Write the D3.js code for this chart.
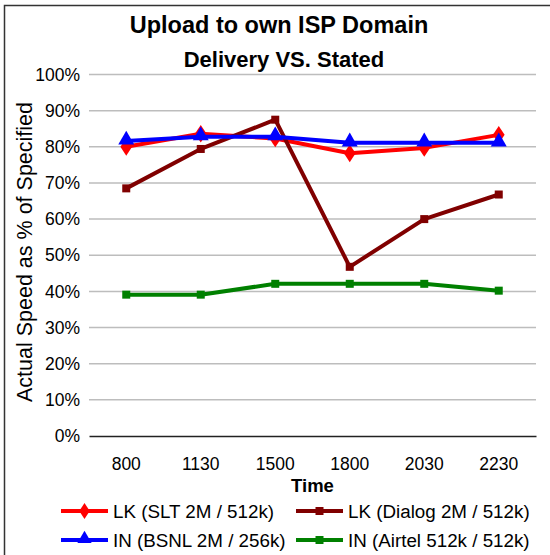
<!DOCTYPE html>
<html>
<head>
<meta charset="utf-8">
<script src="https://cdn.jsdelivr.net/npm/d3@7"></script>
<style>
  html, body { margin: 0; padding: 0; background: #fff; }
  svg { display: block; font-family: Arial, "Liberation Sans", Helvetica, sans-serif; }
</style>
</head>
<body>
<svg id="chart" width="550" height="555"></svg>
<script>
const categories = ["800", "1130", "1500", "1800", "2030", "2230"];
const seriesNames = ["LK (SLT 2M / 512k)", "LK (Dialog 2M / 512k)", "IN (BSNL 2M / 256k)", "IN (Airtel 512k / 512k)"];
const sltValues    = [0.80, 0.836, 0.823, 0.782, 0.797, 0.833];
const dialogValues = [0.685, 0.794, 0.875, 0.468, 0.600, 0.668];
const bsnlValues   = [0.816, 0.828, 0.828, 0.811, 0.811, 0.811];
const airtelValues = [0.391, 0.391, 0.421, 0.421, 0.421, 0.402];
const yTicks = [0, 0.1, 0.2, 0.3, 0.4, 0.5, 0.6, 0.7, 0.8, 0.9, 1.0];
const titleText = "Upload to own ISP Domain";
const subtitleText = "Delivery VS. Stated";
const xTitle = "Time";
const yTitle = "Actual Speed as % of Specified";

const series = [
  { name: seriesNames[0], values: sltValues,    color: "#FF0000", marker: "diamond" },
  { name: seriesNames[1], values: dialogValues, color: "#800000", marker: "square" },
  { name: seriesNames[2], values: bsnlValues,   color: "#0000FF", marker: "triangle" },
  { name: seriesNames[3], values: airtelValues, color: "#008000", marker: "square" }
];

const svg = d3.select("#chart");

// outer frame (extends past the visible area on right/bottom)
svg.append("rect")
  .attr("x", 4.5).attr("y", 5.5)
  .attr("width", 600).attr("height", 600)
  .attr("fill", "none").attr("stroke", "#333").attr("stroke-width", 1.5);

const plot = { left: 89, right: 536, top: 74.5, bottom: 436 };

const x = d3.scaleBand().domain(categories).range([plot.left, plot.right]).padding(0);
const y = d3.scaleLinear().domain([0, 1]).range([plot.bottom, plot.top]);
const cx = c => x(c) + x.bandwidth() / 2;

// gridlines
svg.append("g").selectAll("line")
  .data(yTicks.filter(t => t > 0))
  .join("line")
  .attr("x1", plot.left).attr("x2", plot.right)
  .attr("y1", d => y(d)).attr("y2", d => y(d))
  .attr("stroke", "#BDBDBD").attr("stroke-width", 1.5);

// y axis labels
const yAxis = d3.axisLeft(y).tickValues(yTicks).tickFormat(d3.format(".0%")).tickSize(0).tickPadding(9);
const yg = svg.append("g").attr("transform", `translate(${plot.left},0)`).call(yAxis);
yg.select(".domain").remove();
yg.selectAll("text").attr("font-size", 17.5).attr("fill", "#000").attr("font-family", "Arial, 'Liberation Sans', sans-serif");

// x axis
const xAxis = d3.axisBottom(x).tickSize(0).tickPadding(22);
const xg = svg.append("g").attr("transform", `translate(0,${plot.bottom})`).call(xAxis);
xg.select(".domain").attr("stroke", "#222").attr("stroke-width", 1.5);
xg.selectAll("text").attr("font-size", 17.5).attr("fill", "#000").attr("font-family", "Arial, 'Liberation Sans', sans-serif");

// lines
const line = d3.line().x((d, i) => cx(categories[i])).y(d => y(d));

function drawMarker(g, type, color, size) {
  if (type === "diamond") {
    g.append("path").attr("d", d3.symbol(d3.symbolDiamond, size * 9)()).attr("fill", color).attr("transform", "scale(1.15,1)");
  } else if (type === "square") {
    g.append("rect").attr("x", -size / 2).attr("y", -size / 2).attr("width", size).attr("height", size).attr("fill", color);
  } else if (type === "triangle") {
    g.append("path").attr("d", d3.symbol(d3.symbolTriangle, size * 11)()).attr("fill", color).attr("transform", "translate(0,-1)");
  }
}

series.forEach(s => {
  const g = svg.append("g");
  g.append("path").datum(s.values).attr("d", line)
    .attr("fill", "none").attr("stroke", s.color).attr("stroke-width", 4).attr("stroke-linejoin", "round");
  s.values.forEach((v, i) => {
    const mg = g.append("g").attr("transform", `translate(${cx(categories[i])},${y(v)})`);
    drawMarker(mg, s.marker, s.color, s.marker === "square" ? 8 : 10);
  });
});

// titles
svg.append("text").attr("x", 279).attr("y", 33).attr("text-anchor", "middle")
  .attr("font-size", 23.5).attr("font-weight", "bold").text(titleText);
svg.append("text").attr("x", 284).attr("y", 67).attr("text-anchor", "middle")
  .attr("font-size", 22).attr("font-weight", "bold").text(subtitleText);
svg.append("text").attr("x", (plot.left + plot.right) / 2).attr("y", 492).attr("text-anchor", "middle")
  .attr("font-size", 18.5).attr("font-weight", "bold").text(xTitle);
svg.append("text").attr("transform", `translate(32,252) rotate(-90)`).attr("text-anchor", "middle")
  .attr("font-size", 21.5).text(yTitle);

// legend
const legendPos = [
  { lx: 61, ly: 511 }, { lx: 296, ly: 511 },
  { lx: 61, ly: 540 }, { lx: 296, ly: 540 }
];
series.forEach((s, i) => {
  const p = legendPos[i];
  const g = svg.append("g").attr("transform", `translate(${p.lx},${p.ly})`);
  g.append("line").attr("x1", 0).attr("x2", 47).attr("y1", 0).attr("y2", 0)
    .attr("stroke", s.color).attr("stroke-width", 4);
  const mg = g.append("g").attr("transform", "translate(23.5,0)");
  drawMarker(mg, s.marker, s.color, s.marker === "square" ? 8 : 8);
  g.append("text").attr("x", 52).attr("y", 6.5).attr("font-size", 18.8).text(s.name);
});
</script>
</body>
</html>
